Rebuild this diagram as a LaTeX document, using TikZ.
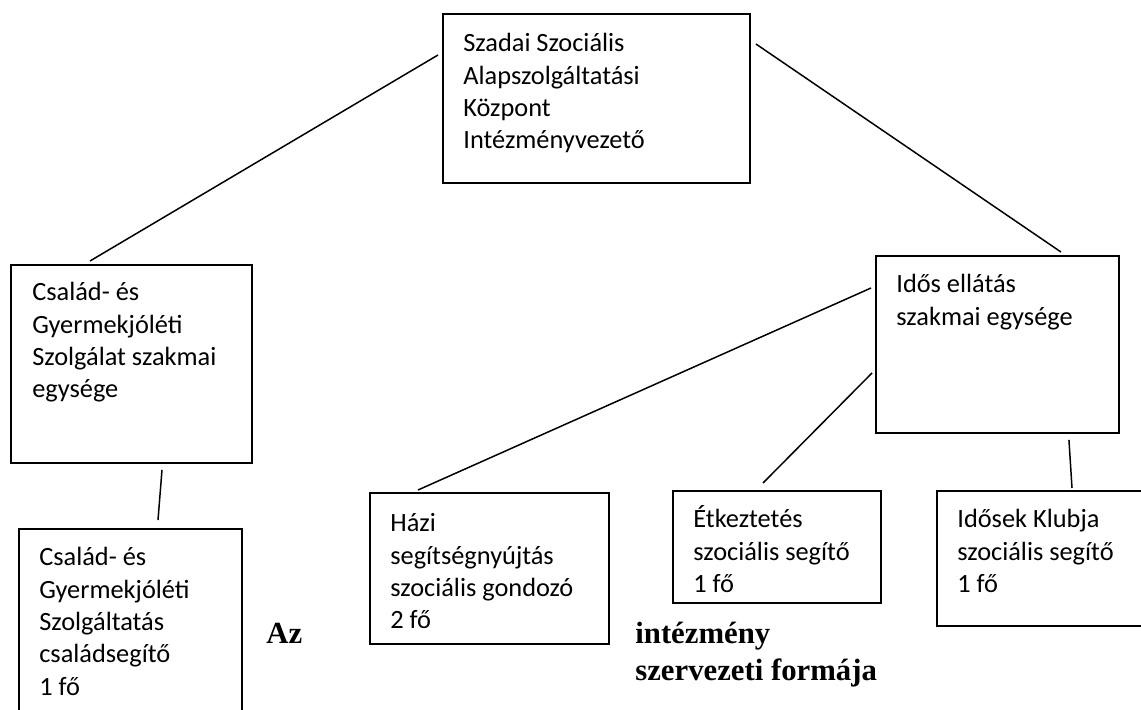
\documentclass[tikz,border=0pt]{standalone}
\usepackage{fontspec}
\setmainfont{Carlito}
\newfontfamily\formfont{Liberation Serif}
\newlength\px
\setlength\px{0.02cm}
\tikzset{
  unit/.style={draw, line width=1.1pt, inner sep=0pt, anchor=north west},
  unittext/.style={inner sep=0pt, anchor=north west, align=left, font=\fontsize{15}{18.4}\selectfont},
  link/.style={line width=0.85pt},
  formtext/.style={inner sep=0pt, align=left, font=\formfont\bfseries\fontsize{17.5}{21}\selectfont}
}
\begin{document}
\begin{tikzpicture}[x=0.02cm, y=-0.02cm]
\clip (0,0) rectangle (1141,709);
% boxes
\node[unit, minimum width=307\px, minimum height=169\px] (ceo) at (442,13) {};
\node[unit, minimum width=241\px, minimum height=198\px] (csgy) at (10,264) {};
\node[unit, minimum width=243\px, minimum height=177\px] (idos) at (875,255) {};
\node[unit, minimum width=223\px, minimum height=200\px] (cssz) at (18,528) {};
\node[unit, minimum width=239\px, minimum height=151\px] (hazi) at (369,492) {};
\node[unit, minimum width=208\px, minimum height=112\px] (etk) at (672,490) {};
\node[unit, minimum width=220\px, minimum height=135\px] (klub) at (936,490) {};
% texts in the boxes
\node[unittext] (ceotext) at ([shift={(21,16)}]ceo.north west) {\strut Szadai Szociális\\Alapszolgáltatási\\Központ\\Intézményvezető};
\node[unittext] (csgytext) at ([shift={(22,14)}]csgy.north west) {\strut Család- és\\Gyermekjóléti\\Szolgálat szakmai\\egysége};
\node[unittext] (idostext) at ([shift={(21,15)}]idos.north west) {\strut Idős ellátás\\szakmai egysége};
\node[unittext] (cssztext) at ([shift={(21,15)}]cssz.north west) {\strut Család- és\\Gyermekjóléti\\Szolgáltatás\\családsegítő\\1 fő};
\node[unittext] (hazitext) at ([shift={(21,17)}]hazi.north west) {\strut Házi\\segítségnyújtás\\szociális gondozó\\2 fő};
\node[unittext] (etktext) at ([shift={(21,15)}]etk.north west) {\strut Étkeztetés\\szociális segítő\\1 fő};
\node[unittext] (klubtext) at ([shift={(21,15)}]klub.north west) {\strut Idősek Klubja\\szociális segítő\\1 fő};
% connectors
\draw[link] ([shift={(-4,42)}]ceo.north west) -- ([shift={(80,-3)}]csgy.north west);
\draw[link] ([shift={(5,31)}]ceo.north east) -- ([shift={(-59,-3)}]idos.north east);
\draw[link] ([shift={(152,6)}]csgy.south west) -- ([shift={(140,-8)}]cssz.north west);
\draw[link] ([shift={(-4,33)}]idos.north west) -- ([shift={(49,-2)}]hazi.north west);
\draw[link] ([shift={(-3,118)}]idos.north west) -- ([shift={(91,-7)}]etk.north west);
\draw[link] ([shift={(-51,6)}]idos.south east) -- ([shift={(136,-2)}]klub.north west);
% title pieces
\node[formtext, anchor=base west] (az) at (266,643) {Az};
\node[formtext, anchor=north west] (forma) at (635,617) {\strut intézmény\\szervezeti formája};
\end{tikzpicture}
\end{document}
